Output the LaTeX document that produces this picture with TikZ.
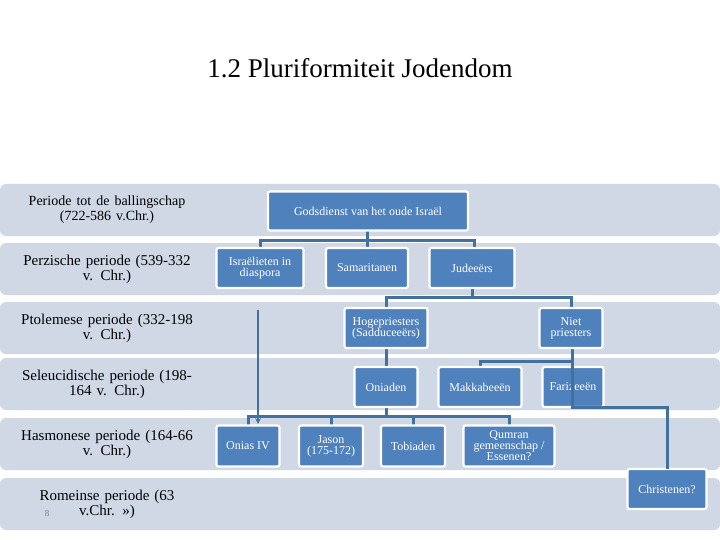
\documentclass[tikz,border=0pt]{standalone}
\usepackage{fontspec}
\setmainfont{Liberation Serif}
\definecolor{band}{HTML}{D0D8E6}
\definecolor{boxb}{HTML}{4F81BD}
\definecolor{line}{HTML}{41719C}
\begin{document}
\begin{tikzpicture}[x=1pt,y=-1pt,
  bandr/.style={fill=band,rounded corners=6pt},
  bx/.style={draw=white,line width=2.2pt,fill=boxb,rounded corners=2pt,text=white,align=center,font=\fontsize{12}{11}\selectfont,inner sep=1pt},
  per/.style={align=center,font=\fontsize{15}{15}\selectfont,text width=205pt},
  con/.style={line,line width=3pt}]
\useasboundingbox (0,0) rectangle (720,540);
\fill[white] (0,0) rectangle (720,540);
\node (title) at (360,68) {\fontsize{27}{30}\selectfont 1.2 Pluriformiteit Jodendom};
\foreach \a/\b in {184/236,243/295,302/354,358/410,418/470,478/530}
  \fill[bandr] (0,\a) rectangle (720,\b);
\node[per] (p1) at (107,210) {\fontsize{14}{15}\selectfont Periode tot de ballingschap\\(722-586 v.Chr.)};
\node[per] (p2) at (107,269) {Perzische periode (539-332\\v. Chr.)};
\node[per] (p3) at (107,328) {Ptolemese periode (332-198\\v. Chr.)};
\node[per] (p4) at (107,384) {Seleucidische periode (198-\\164 v. Chr.)};
\node[per] (p5) at (107,444) {Hasmonese periode (164-66\\v. Chr.)};
\node[per] (p6) at (107,504) {Romeinse periode (63\\v.Chr. >>)};
\node[text=gray,font=\fontsize{9}{9}\selectfont] (pg) at (47,514) {8};
% connectors
\coordinate (c1) at (367,240);
\draw[con] (367,230) -- (c1) (260,248) |- (c1) -| (474,248) (367,240) -- (367,248);
\draw[con] (472,288) -- (472,297) (386,308) |- (472,297) -| (571,308);
\draw[con] (386,348) -- (386,367);
\draw[con] (572,348) -- (572,361) (480,367) |- (572,361);
\draw[con] (386,407) -- (386,416) (248,426) |- (386,416) -| (509,426) (331,416)--(331,426) (413,416)--(413,426);
\draw[line,line width=1.5pt,-stealth] (258,310) -- (258,424);
% boxes
\node[bx,minimum width=200pt,minimum height=39pt] (god) at (368,211) {Godsdienst van het oude Israël};
\node[bx,minimum width=87pt,minimum height=40pt] (isr) at (260,268) {Israëlieten in\\diaspora};
\node[bx,minimum width=82pt,minimum height=40pt] (sam) at (367,268) {Samaritanen};
\node[bx,minimum width=85pt,minimum height=40pt] (jud) at (472,268) {Judeeërs};
\node[bx,minimum width=83pt,minimum height=40pt] (hog) at (386,328) {Hogepriesters\\(Sadduceeërs)};
\node[bx,minimum width=63pt,minimum height=40pt] (niet) at (571,328) {Niet\\priesters};
\node[bx,minimum width=63pt,minimum height=40pt] (oni) at (386,387) {Oniaden};
\node[bx,minimum width=83pt,minimum height=40pt] (mak) at (480,387) {Makkabeeën};
\node[bx,minimum width=61pt,minimum height=40pt] (far) at (573,387) {Farizeeën};
\node[bx,minimum width=63pt,minimum height=41pt] (ons) at (248,446) {Onias IV};
\node[bx,minimum width=64pt,minimum height=41pt] (jas) at (331,446) {Jason\\(175-172)};
\node[bx,minimum width=64pt,minimum height=41pt] (tob) at (413,446) {Tobiaden};
\node[bx,minimum width=91pt,minimum height=41pt] (qum) at (509,446) {Qumran\\gemeenschap /\\Essenen?};
\node[bx,minimum width=79pt,minimum height=40pt] (chr) at (667,489) {Christenen?};
\draw[con] (572,361) -- (572,407) -| (667,469);
\end{tikzpicture}
\end{document}
